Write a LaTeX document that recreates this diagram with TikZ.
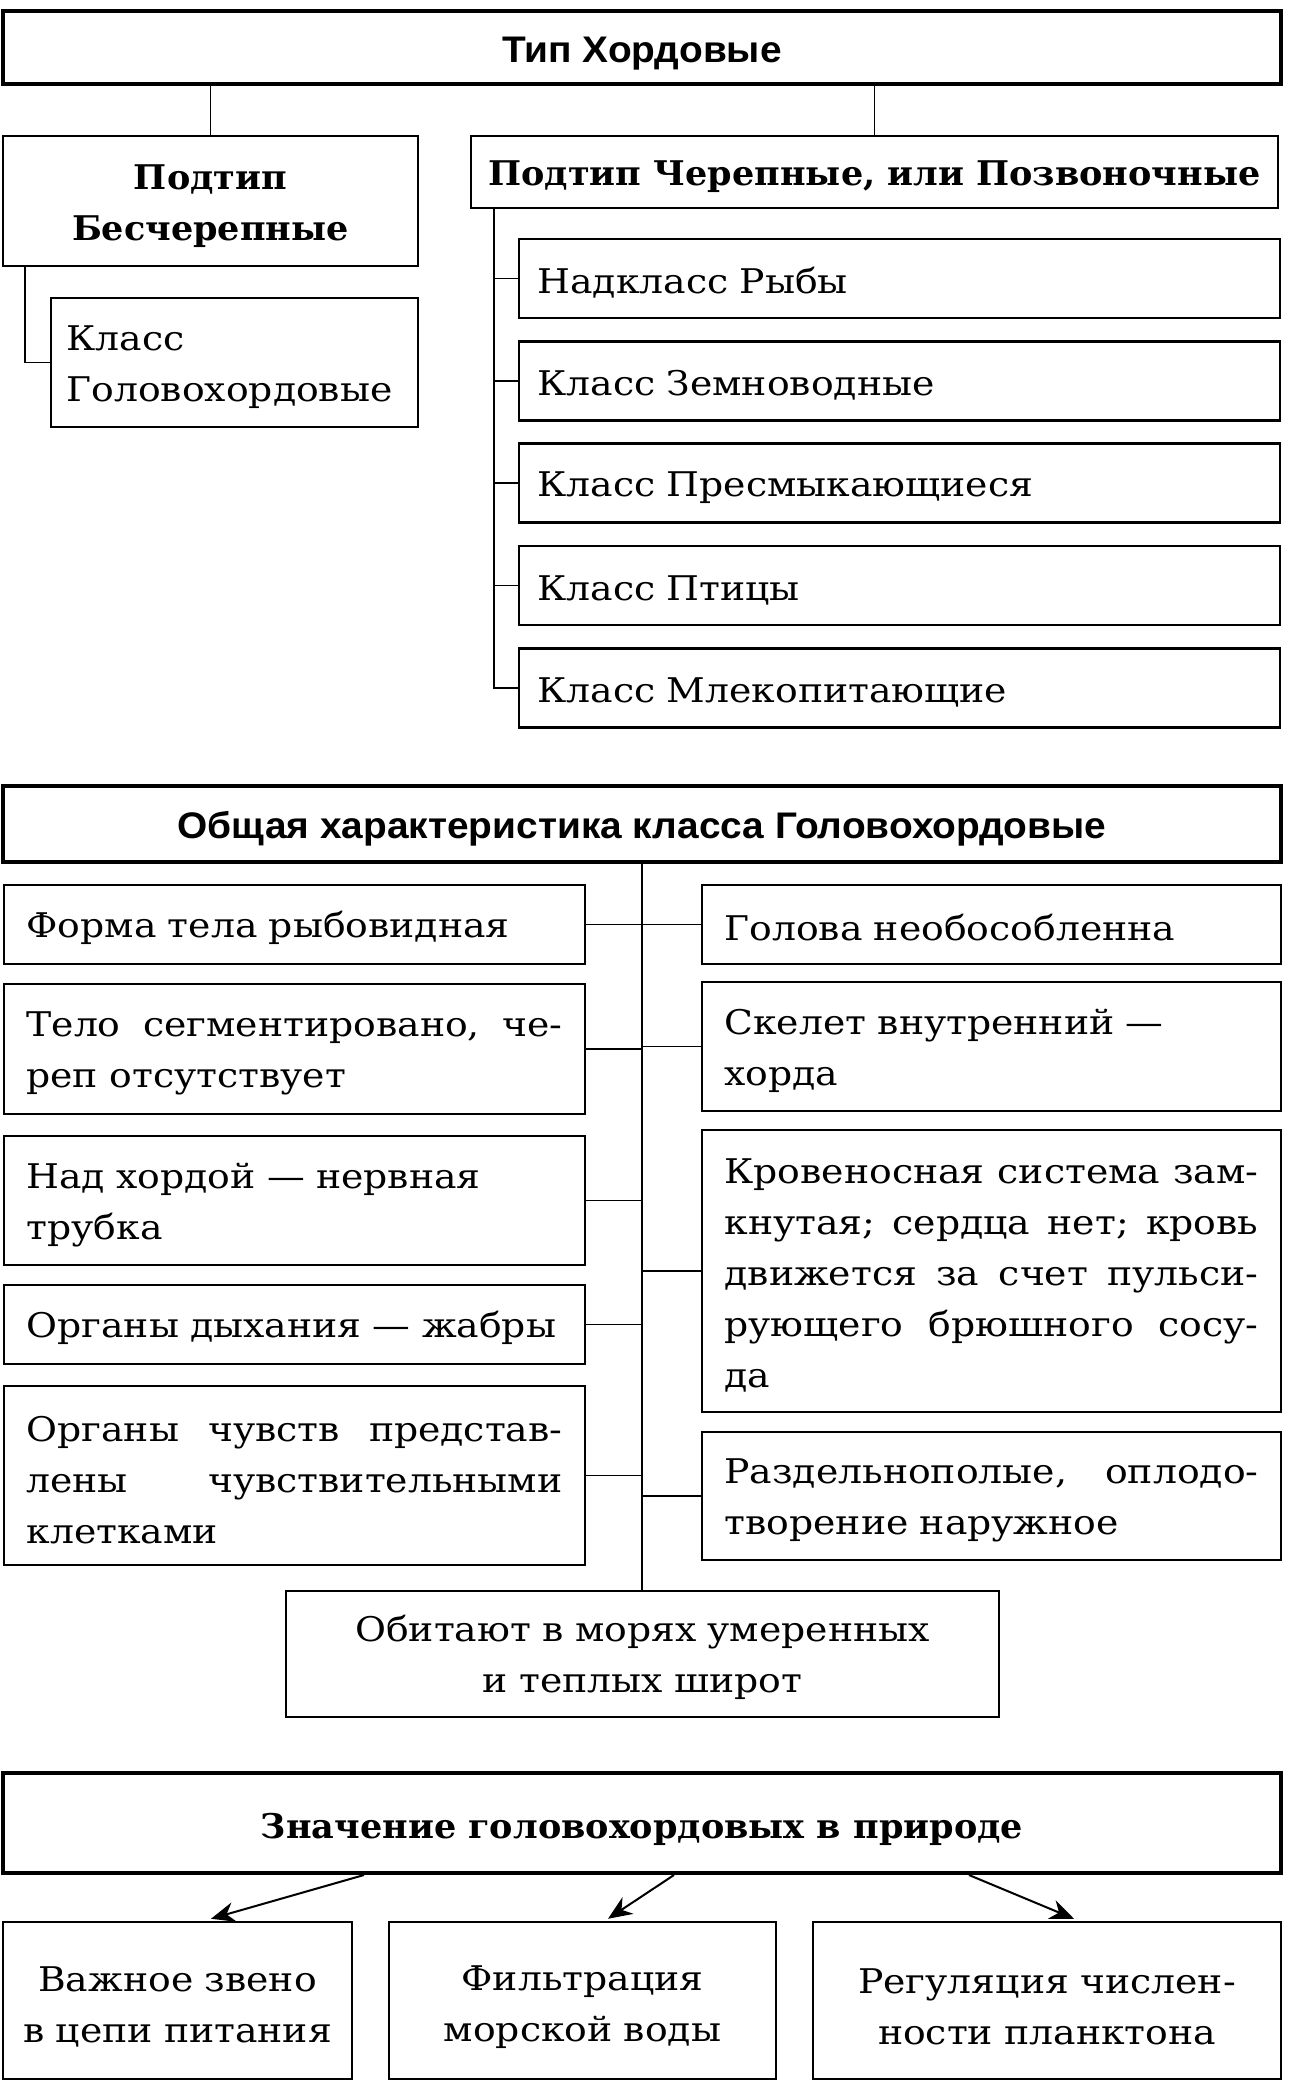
\documentclass[tikz,border=0pt]{standalone}
\usepackage{fontspec}
\setmainfont{DejaVu Serif}[UprightFeatures={FakeStretch=1.11},BoldFeatures={FakeStretch=1.03}]
\newfontfamily\headfont{Liberation Sans}[FakeStretch=1.05]
\usetikzlibrary{arrows.meta,positioning,calc}
\newcommand{\bodysize}{\fontsize{17}{25.5}\selectfont}
\tikzset{
  box/.style={draw=black,line width=1.25pt,inner sep=0pt,text height=17pt,font=\bodysize},
  headbox/.style={box,line width=2pt,minimum width=639pt,text height=18.5pt,font=\headfont\bfseries\fontsize{18.5}{22}\selectfont},
  subbox/.style={box,align=center,font=\bodysize\bfseries},
  classbox/.style={box,minimum width=380.5pt,minimum height=39.5pt,text width=362pt,align=left},
  leftbox/.style={box,minimum width=290.5pt,text width=268pt,align=left},
  rightbox/.style={box,minimum width=289.5pt,text width=267pt,align=left},
  usebox/.style={box,minimum height=78.5pt,text height=19pt,align=center},
  wire/.style={line width=0.8pt},
  arrow/.style={-{Stealth[length=12pt,width=10pt]},line width=1pt}
}
\begin{document}
\begin{tikzpicture}[x=0.5pt,y=-0.5pt]
\useasboundingbox (0,0) rectangle (1290,2084);
% systematics
\node[headbox,minimum height=36.5pt] (tip) at (642,47.5) {Тип Хордовые};
\node[subbox,minimum width=207.5pt,minimum height=65pt,text width=200pt,text height=18pt] (bes) at (210.5,201) {Подтип\\Бесчерепные};
\node[subbox,minimum width=403.5pt,minimum height=36pt] (cher) at (874.5,172) {Подтип Черепные, или Позвоночные};
\node[box,minimum width=183.5pt,minimum height=64.5pt,text width=168pt,align=left] (golovo) at (234.5,362.5) {Класс\\Головохордовые};
\node[classbox] (ryby) at (899.5,278.5) {Надкласс Рыбы};
\node[classbox] (zemn) at (899.5,381) {Класс Земноводные};
\node[classbox] (presm) at (899.5,483) {Класс Пресмыкающиеся};
\node[classbox] (ptitsy) at (899.5,585.5) {Класс Птицы};
\node[classbox] (mleko) at (899.5,688) {Класс Млекопитающие};
\coordinate (spine) at (494,0);
\draw[wire] (tip.south -| bes.north) -- (bes.north);
\draw[wire] (tip.south -| cher.north) -- (cher.north);
\draw[wire] ([xshift=11.5pt]bes.south west) |- (golovo.west);
\draw[wire] (cher.south -| spine) |- (mleko.west);
\foreach \n in {ryby,zemn,presm,ptitsy}
  \draw[wire] (\n.west) -- (\n.west -| spine);
% general characteristics
\node[headbox,minimum height=38pt] (gen) at (642,824) {Общая характеристика класса Головохордовые};
\node[leftbox,minimum height=39.5pt] (f1) at (294.5,924.5) {Форма тела рыбовидная};
\node[leftbox,minimum height=65pt] (f2) at (294.5,1049) {Тело\hfill сегментировано,\hfill че-\\реп отсутствует};
\node[leftbox,minimum height=64.5pt] (f3) at (294.5,1200.5) {Над хордой — нервная\\трубка};
\node[leftbox,minimum height=39.5pt] (f4) at (294.5,1324.5) {Органы дыхания — жабры};
\node[leftbox,minimum height=89.5pt] (f5) at (294.5,1475.5) {Органы\hfill чувств\hfill представ-\\лены\hfill чувствительными\\клетками};
\node[rightbox,minimum height=39.5pt,text height=16pt] (g1) at (991.5,924.5) {Голова необособленна};
\node[rightbox,minimum height=64.5pt] (g2) at (991.5,1046.5) {Скелет внутренний —\\хорда};
\node[rightbox,minimum height=141pt] (g3) at (991.5,1271) {Кровеносная\hfill система\hfill зам-\\кнутая;\hfill сердца\hfill нет;\hfill кровь\\движется\hfill за\hfill счет\hfill пульси-\\рующего\hfill брюшного\hfill сосу-\\да};
\node[rightbox,minimum height=64pt] (g4) at (991.5,1496) {Раздельнополые,\hfill оплодо-\\творение наружное};
\node[box,minimum width=356.5pt,minimum height=63pt,text width=345pt,align=center] (obit) at (642.5,1654) {Обитают в морях умеренных\\и теплых широт};
\draw[wire] (gen.south) -- (gen.south |- obit.north);
\foreach \n in {f1,f2,f3,f4,f5}
  \draw[wire] (\n.east) -- (\n.east -| gen.south);
\foreach \n in {g1,g2,g3,g4}
  \draw[wire] (\n.west) -- (\n.west -| gen.south);
% importance
\node[box,line width=2pt,minimum width=639pt,minimum height=50pt,text height=19pt,font=\bodysize\bfseries] (znach) at (642,1823) {Значение головохордовых в природе};
\node[usebox,minimum width=174.5pt,text width=168pt] (zveno) at (177.5,2000.5) {Важное звено\\в цепи питания};
\node[usebox,minimum width=193.5pt,text width=185pt] (filtr) at (582.5,2000.5) {Фильтрация\\морской воды};
\node[usebox,minimum width=234pt,text width=225pt] (regul) at (1047,2000.5) {Регуляция числен-\\ности планктона};
\draw[arrow] ([xshift=-139pt]znach.south) -- ([xshift=16.75pt,yshift=1pt]zveno.north);
\draw[arrow] ([xshift=16pt]znach.south) -- ([xshift=12.75pt,yshift=1pt]filtr.north);
\draw[arrow] ([xshift=163.5pt]znach.south) -- ([xshift=13.5pt,yshift=1pt]regul.north);
\end{tikzpicture}
\end{document}
